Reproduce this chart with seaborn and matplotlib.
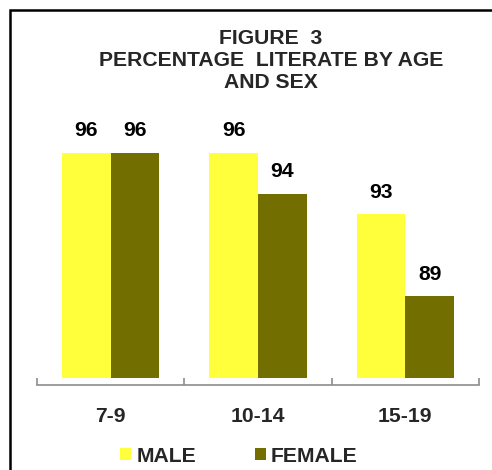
import matplotlib
matplotlib.use("Agg")
import matplotlib.pyplot as plt
from matplotlib.patches import Rectangle, Patch
import seaborn as sns
import pandas as pd

age_groups = ["7-9", "10-14", "15-19"]
male = [96, 96, 93]
female = [96, 94, 89]
series = ["MALE", "FEMALE"]
colors = ["#FFFF3C", "#726E00"]

df = pd.DataFrame({
    "age": age_groups * 2,
    "sex": [series[0]] * len(age_groups) + [series[1]] * len(age_groups),
    "pct": male + female,
})

sns.set_theme(style="white")
plt.rcParams["font.family"] = ["Liberation Sans", "DejaVu Sans"]
plt.rcParams["font.weight"] = "bold"

FS = 15.2

fig = plt.figure(figsize=(4.92, 4.70), dpi=100)
ax = fig.add_axes([37 / 492, 1 - 378 / 470, (479 - 37) / 492, (378 - 111.5) / 470])

sns.barplot(data=df, x="age", y="pct", hue="sex", palette=colors,
            width=0.66, saturation=1, legend=False, ax=ax, linewidth=0)

for cont in ax.containers:
    ax.bar_label(cont, fmt="%d", padding=9, fontsize=FS, fontweight="bold", color="black")

ax.set_ylim(85, 98)
ax.set_xlim(-0.5, 2.5)
ax.set_xlabel("")
ax.set_ylabel("")
ax.set_yticks([])
for s in ["left", "right", "top"]:
    ax.spines[s].set_visible(False)
ax.spines["bottom"].set_color("#8c8c8c")
ax.spines["bottom"].set_linewidth(1.2)
ax.spines["bottom"].set_position(("outward", 5))
ax.set_xticks([-0.5, 0.5, 1.5, 2.5], minor=True)
ax.tick_params(axis="x", which="minor", direction="in", length=5, width=1.2, color="#8c8c8c", bottom=True)
ax.tick_params(axis="x", which="major", length=0, pad=16, labelsize=FS)
for lbl in ax.get_xticklabels():
    lbl.set_fontweight("bold")

fig.text(271 / 492, 1 - 29 / 470, "FIGURE  3\nPERCENTAGE  LITERATE BY AGE\nAND SEX",
         ha="center", va="top", fontsize=FS, fontweight="bold", linespacing=1.2)

handles = [Patch(facecolor=c, edgecolor="none", label=s) for s, c in zip(series, colors)]
fig.legend(handles=handles, loc="center", bbox_to_anchor=(239 / 492, 1 - 456 / 470),
           ncol=2, frameon=False, handlelength=0.5, handleheight=0.5,
           handletextpad=0.25, columnspacing=2.8, prop={"weight": "bold", "size": FS})

fig.patches.append(Rectangle((10 / 492, -0.2), 1.2, 1 - 10 / 470 + 0.2,
                             transform=fig.transFigure, fill=False,
                             edgecolor="black", linewidth=1.8, figure=fig))

fig.savefig("out.png", dpi=100)
